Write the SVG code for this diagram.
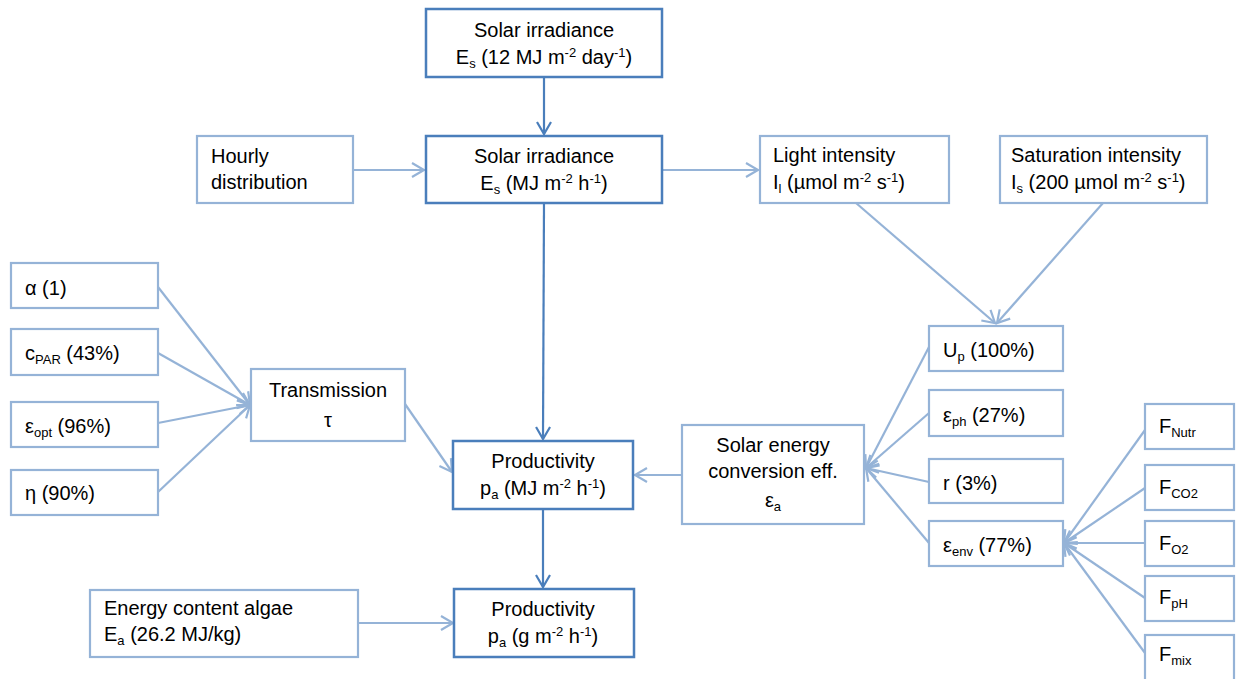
<svg xmlns="http://www.w3.org/2000/svg" width="1236" height="679" viewBox="0 0 1236 679">
<defs>
<style>
text{font-family:"Liberation Sans",Arial,sans-serif;font-size:20px;fill:#000}
.c{text-anchor:middle}
.s{font-size:13px}
.dk{fill:#fff;stroke:#4A7EBB;stroke-width:2.5}
.lt{fill:#fff;stroke:#95B3D7;stroke-width:2.2}
.ld{fill:none;stroke:#4A7EBB;stroke-width:2.2}
.ll{fill:none;stroke:#95B3D7;stroke-width:2.2}
</style>
<marker id="ad" markerUnits="userSpaceOnUse" viewBox="-14 -9 16 18" markerWidth="16" markerHeight="18" refX="0" refY="0" orient="auto" overflow="visible"><path d="M-12,-7 L0,0 L-12,7" fill="none" stroke="#4A7EBB" stroke-width="2.2"/></marker>
<marker id="al" markerUnits="userSpaceOnUse" viewBox="-14 -9 16 18" markerWidth="16" markerHeight="18" refX="0" refY="0" orient="auto" overflow="visible"><path d="M-12,-7 L0,0 L-12,7" fill="none" stroke="#95B3D7" stroke-width="2.2"/></marker>
</defs>
<rect width="1236" height="679" fill="#fff"/>
<g id="connectors">
<line class="ld" x1="544" y1="77" x2="544" y2="134" marker-end="url(#ad)"/>
<line class="ll" x1="353" y1="170" x2="424" y2="170" marker-end="url(#al)"/>
<line class="ll" x1="662" y1="170" x2="758" y2="170" marker-end="url(#al)"/>
<line class="ld" x1="544" y1="203" x2="543" y2="439" marker-end="url(#ad)"/>
<line class="ll" x1="856" y1="203" x2="995" y2="323" marker-end="url(#al)"/>
<line class="ll" x1="1103" y1="203" x2="997" y2="323" marker-end="url(#al)"/>
<line class="ll" x1="158" y1="287" x2="250" y2="405" marker-end="url(#al)"/>
<line class="ll" x1="158" y1="353" x2="250" y2="405" marker-end="url(#al)"/>
<line class="ll" x1="158" y1="423" x2="250" y2="405" marker-end="url(#al)"/>
<line class="ll" x1="158" y1="492" x2="250" y2="405" marker-end="url(#al)"/>
<line class="ll" x1="405" y1="404" x2="452" y2="472" marker-end="url(#al)"/>
<line class="ll" x1="682" y1="475" x2="635" y2="475" marker-end="url(#al)"/>
<line class="ld" x1="543" y1="509" x2="543" y2="587" marker-end="url(#ad)"/>
<line class="ll" x1="358" y1="623" x2="453" y2="623" marker-end="url(#al)"/>
<line class="ll" x1="929" y1="347" x2="866" y2="468" marker-end="url(#al)"/>
<line class="ll" x1="929" y1="413" x2="866" y2="468" marker-end="url(#al)"/>
<line class="ll" x1="929" y1="482" x2="866" y2="468" marker-end="url(#al)"/>
<line class="ll" x1="929" y1="543" x2="866" y2="468" marker-end="url(#al)"/>
<line class="ll" x1="1145" y1="430" x2="1064" y2="543" marker-end="url(#al)"/>
<line class="ll" x1="1145" y1="488" x2="1064" y2="543" marker-end="url(#al)"/>
<line class="ll" x1="1145" y1="543" x2="1064" y2="543" marker-end="url(#al)"/>
<line class="ll" x1="1145" y1="598" x2="1064" y2="543" marker-end="url(#al)"/>
<line class="ll" x1="1145" y1="653" x2="1064" y2="543" marker-end="url(#al)"/>
</g>
<g id="solar-day"><rect class="dk" x="426" y="9" width="236" height="68"/>
<text class="c" x="544" y="37">Solar irradiance</text>
<text class="c" x="544" y="64">E<tspan class="s" dy="4">s</tspan><tspan dy="-4"> (12 MJ m</tspan><tspan class="s" dy="-7">-2</tspan><tspan dy="7"> day</tspan><tspan class="s" dy="-7">-1</tspan><tspan dy="7">)</tspan></text></g>
<g id="hourly"><rect class="lt" x="197" y="136" width="156" height="67"/>
<text x="211" y="163">Hourly</text><text x="211" y="189">distribution</text></g>
<g id="solar-hour"><rect class="dk" x="426" y="136" width="236" height="67"/>
<text class="c" x="544" y="163">Solar irradiance</text>
<text class="c" x="544" y="190">E<tspan class="s" dy="4">s</tspan><tspan dy="-4"> (MJ m</tspan><tspan class="s" dy="-7">-2</tspan><tspan dy="7"> h</tspan><tspan class="s" dy="-7">-1</tspan><tspan dy="7">)</tspan></text></g>
<g id="light"><rect class="lt" x="760" y="136" width="189" height="67"/>
<text x="773" y="162">Light intensity</text>
<text x="773" y="189">I<tspan class="s" dy="4">l</tspan><tspan dy="-4"> (µmol m</tspan><tspan class="s" dy="-7">-2</tspan><tspan dy="7"> s</tspan><tspan class="s" dy="-7">-1</tspan><tspan dy="7">)</tspan></text></g>
<g id="saturation"><rect class="lt" x="1000" y="136" width="207" height="67"/>
<text x="1011" y="162">Saturation intensity</text>
<text x="1011" y="189">I<tspan class="s" dy="4">s</tspan><tspan dy="-4"> (200 µmol m</tspan><tspan class="s" dy="-7">-2</tspan><tspan dy="7"> s</tspan><tspan class="s" dy="-7">-1</tspan><tspan dy="7">)</tspan></text></g>
<g id="alpha"><rect class="lt" x="11" y="263" width="147" height="45"/><text x="25" y="295">α (1)</text></g>
<g id="cpar"><rect class="lt" x="11" y="329" width="147" height="46"/><text x="25" y="360">c<tspan class="s" dy="4">PAR</tspan><tspan dy="-4"> (43%)</tspan></text></g>
<g id="eopt"><rect class="lt" x="11" y="402" width="147" height="45"/><text x="25" y="433">ε<tspan class="s" dy="4">opt</tspan><tspan dy="-4"> (96%)</tspan></text></g>
<g id="eta"><rect class="lt" x="11" y="470" width="147" height="45"/><text x="25" y="500">η (90%)</text></g>
<g id="transmission"><rect class="lt" x="251" y="369" width="154" height="72"/>
<text class="c" x="328" y="397">Transmission</text><text class="c" x="328" y="427">τ</text></g>
<g id="prod-mj"><rect class="dk" x="453" y="441" width="180" height="68"/>
<text class="c" x="543" y="468">Productivity</text>
<text class="c" x="543" y="495">p<tspan class="s" dy="4">a</tspan><tspan dy="-4"> (MJ m</tspan><tspan class="s" dy="-7">-2</tspan><tspan dy="7"> h</tspan><tspan class="s" dy="-7">-1</tspan><tspan dy="7">)</tspan></text></g>
<g id="conversion"><rect class="lt" x="682" y="425" width="182" height="99"/>
<text class="c" x="773" y="452">Solar energy</text><text class="c" x="773" y="478">conversion eff.</text>
<text class="c" x="773" y="507">ε<tspan class="s" dy="4">a</tspan></text></g>
<g id="energy"><rect class="lt" x="90" y="590" width="268" height="67"/>
<text x="104" y="615">Energy content algae</text>
<text x="104" y="641">E<tspan class="s" dy="4">a</tspan><tspan dy="-4"> (26.2 MJ/kg)</tspan></text></g>
<g id="prod-g"><rect class="dk" x="454" y="589" width="180" height="68"/>
<text class="c" x="543" y="616">Productivity</text>
<text class="c" x="543" y="643">p<tspan class="s" dy="4">a</tspan><tspan dy="-4"> (g m</tspan><tspan class="s" dy="-7">-2</tspan><tspan dy="7"> h</tspan><tspan class="s" dy="-7">-1</tspan><tspan dy="7">)</tspan></text></g>
<g id="up"><rect class="lt" x="929" y="326" width="134" height="45"/><text x="943" y="357">U<tspan class="s" dy="4">p</tspan><tspan dy="-4"> (100%)</tspan></text></g>
<g id="eph"><rect class="lt" x="929" y="390" width="134" height="46"/><text x="943" y="422">ε<tspan class="s" dy="4">ph</tspan><tspan dy="-4"> (27%)</tspan></text></g>
<g id="r"><rect class="lt" x="929" y="459" width="134" height="44"/><text x="943" y="490">r (3%)</text></g>
<g id="eenv"><rect class="lt" x="929" y="521" width="134" height="45"/><text x="943" y="552">ε<tspan class="s" dy="4">env</tspan><tspan dy="-4"> (77%)</tspan></text></g>
<g id="fnutr"><rect class="lt" x="1145" y="404" width="89" height="45"/><text x="1159" y="433">F<tspan class="s" dy="4">Nutr</tspan></text></g>
<g id="fco2"><rect class="lt" x="1145" y="465" width="89" height="45"/><text x="1159" y="494">F<tspan class="s" dy="4">CO2</tspan></text></g>
<g id="fo2"><rect class="lt" x="1145" y="521" width="89" height="45"/><text x="1159" y="550">F<tspan class="s" dy="4">O2</tspan></text></g>
<g id="fph"><rect class="lt" x="1145" y="576" width="89" height="45"/><text x="1159" y="604">F<tspan class="s" dy="4">pH</tspan></text></g>
<g id="fmix"><rect class="lt" x="1145" y="635" width="89" height="50"/><text x="1159" y="661">F<tspan class="s" dy="4">mix</tspan></text></g>
</svg>
